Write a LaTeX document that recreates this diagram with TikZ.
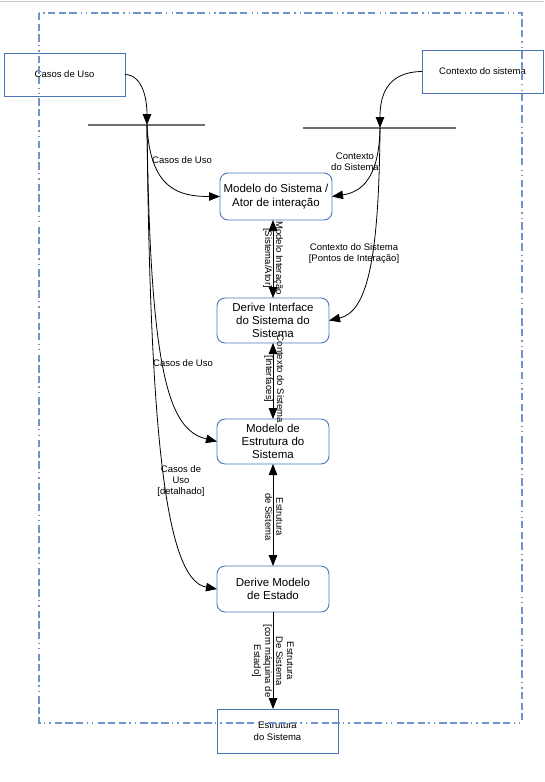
\documentclass[tikz,border=0pt]{standalone}
\usepackage{fontspec}
\setmainfont{Liberation Sans}
\usetikzlibrary{arrows.meta}
\definecolor{boxblue}{HTML}{4A76B8}
\definecolor{framblue}{HTML}{7095CC}
\definecolor{bargray}{HTML}{6E6E6E}
\tikzset{
  rbox/.style={draw=boxblue, line width=0.9pt, rounded corners=8pt, align=center, inner sep=1pt, outer sep=0pt,
    font=\fontsize{11.5}{13.3}\selectfont},
  sbox/.style={draw=boxblue, line width=0.9pt, align=center, inner sep=1pt, outer sep=0pt,
    font=\fontsize{9.5}{12}\selectfont},
  lbl/.style={align=center, inner sep=0pt, font=\fontsize{9.5}{11}\selectfont},
  arr/.style={draw=black, line width=0.8pt, -{Triangle[length=11pt,width=8.5pt]}},
  dblarr/.style={draw=black, line width=0.8pt, {Triangle[length=11pt,width=8.5pt]}-{Triangle[length=11pt,width=8.5pt]}},
  bar/.style={draw=bargray, line width=1.5pt},
  frame/.style={draw=framblue, line width=1.3pt, dash pattern=on 7.3pt off 3.3pt on 7.3pt off 3.3pt on 7.3pt off 3.3pt on 1.3pt off 4.1pt on 1.3pt off 4.2pt}
}
\begin{document}
\begin{tikzpicture}[x=1pt,y=-1pt]
\useasboundingbox (0,0) rectangle (544,782);
% page edge line
\draw[draw=black!22, line width=1pt] (0,1.5) -- (544,1.5);

% boxes
\node[sbox, minimum width=121pt, minimum height=43pt] (cu) at (64.5,74.5) {Casos de Uso};
\node[sbox, minimum width=121pt, minimum height=43pt] (cs) at (482.5,71.5) {Contexto do sistema};
\node[rbox, minimum width=112pt, minimum height=47pt] (m1) at (276,196.5) {Modelo do Sistema /\\Ator de interação};
\node[rbox, minimum width=112pt, minimum height=45pt] (d1) at (273,320.5) {Derive Interface\\do Sistema do\\Sistema};
\node[rbox, minimum width=112pt, minimum height=45pt] (m2) at (273,441.5) {Modelo de\\Estrutura do\\Sistema};
\node[rbox, minimum width=112pt, minimum height=46pt] (d2) at (273,589) {Derive Modelo\\de Estado};
\node[sbox, minimum width=121pt, minimum height=44pt] (es) at (277.5,731) {Estrutura\\do Sistema};

% bars
\coordinate (bl1) at (88,125);
\coordinate (br1) at (205,125);
\coordinate (tl) at (147,125);
\coordinate (bl2) at (303,128);
\coordinate (br2) at (456,128);
\coordinate (tr) at (380,128);
\draw[bar] (bl1) -- (br1);
\draw[bar] (bl2) -- (br2);

% inputs to bars
\draw[arr] (cu.east) .. controls (143,75) and (147,100) .. (tl);
\draw[arr] (cs.west) .. controls (385,72) and (380,98) .. (tr);

% left curves
\draw[arr] (tl) .. controls (150,190) and (180,196.5) .. (m1.west);
\draw[arr] (tl) .. controls (150,380) and (170,430) .. (m2.west);
\draw[arr] (tl) .. controls (150,430) and (165,580) .. (d2.west);

% right curves
\draw[arr] (tr) .. controls (379,178) and (362,192) .. (m1.east);
\draw[arr] (tr) .. controls (379,265) and (366,312) .. (d1.east);

% vertical arrows
\draw[dblarr] (d1.north |- m1.south) -- (d1.north);
\draw[dblarr] (d1.south) -- (m2.north);
\draw[dblarr] (m2.south) -- (d2.north);
\draw[arr] (d2.south) -- (d2.south |- es.north);

% labels
\node[lbl] (l1) at (182,160) {Casos de Uso};
\node[lbl] (l2) at (183,363) {Casos de Uso};
\node[lbl] (l3) at (181,481) {Casos de\\Uso\\[0pt][detalhado]};
\node[lbl] (l4) at (355,162) {Contexto\\do Sistema};
\node[lbl] (l5) at (354,254) {Contexto do Sistema\\[0pt][Pontos de Interação]};
\node[lbl, rotate=-90] (v1) at (273,258) {Modelo Interação\\[0pt][Sistema/Ator]};
\node[lbl, rotate=-90] (v2) at (274,379) {Contexto do Sistema\\[0pt][Interfaces]};
\node[lbl, rotate=-90] (v3) at (274,517) {Estrutura\\de Sistema};
\node[lbl, rotate=-90] (v4) at (273,661) {Estrutura\\De Sistema\\[0pt][com máquina de\\Estado]};

% frame
\draw[frame] (39,13) rectangle (522,723);
\end{tikzpicture}
\end{document}
